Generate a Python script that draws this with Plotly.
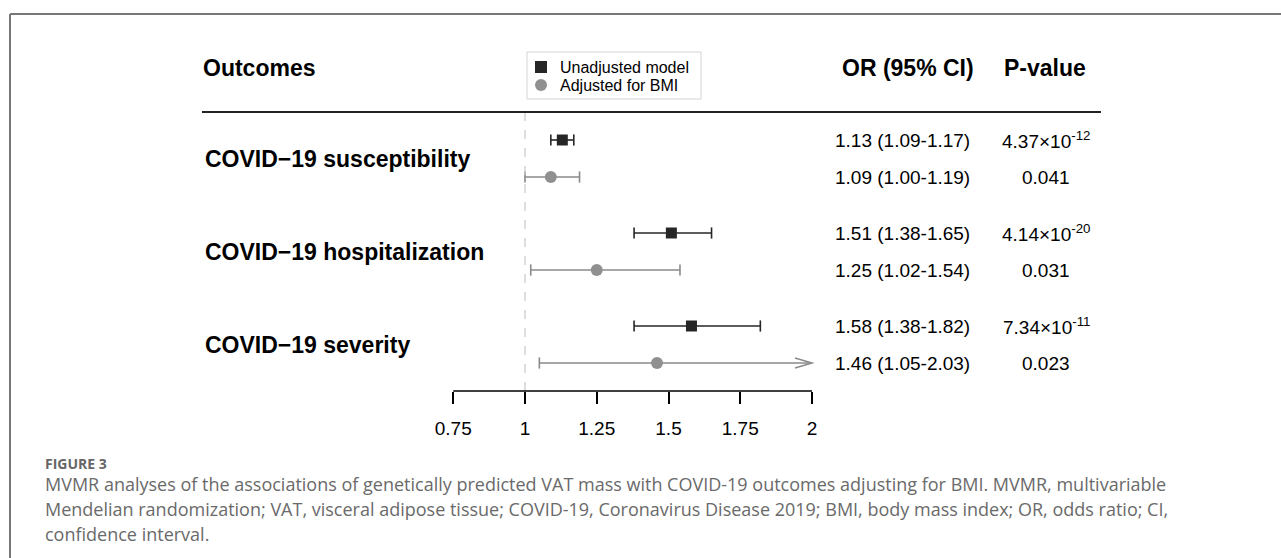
import plotly.graph_objects as go

# ---------------- data ----------------
outcomes = ["COVID−19 susceptibility", "COVID−19 hospitalization", "COVID−19 severity"]
models = ["Unadjusted model", "Adjusted for BMI"]

or_unadj = [1.13, 1.51, 1.58]
lo_unadj = [1.09, 1.38, 1.38]
hi_unadj = [1.17, 1.65, 1.82]
p_unadj = ["4.37×10<sup>-12</sup>", "4.14×10<sup>-20</sup>", "7.34×10<sup>-11</sup>"]

or_adj = [1.09, 1.25, 1.46]
lo_adj = [1.00, 1.02, 1.05]
hi_adj = [1.19, 1.54, 2.03]
p_adj = ["0.041", "0.031", "0.023"]

tick_vals = [0.75, 1, 1.25, 1.5, 1.75, 2]
tick_text = ["0.75", "1", "1.25", "1.5", "1.75", "2"]

headers = ["Outcomes", "OR (95% CI)", "P-value"]
caption_title = "FIGURE 3"
caption_lines = [
    "MVMR analyses of the associations of genetically predicted VAT mass with COVID-19 outcomes adjusting for BMI. MVMR, multivariable",
    "Mendelian randomization; VAT, visceral adipose tissue; COVID-19, Coronavirus Disease 2019; BMI, body mass index; OR, odds ratio; CI,",
    "confidence interval.",
]

# ---------------- layout constants (pixels) ----------------
W, H = 1281, 558
X_ONE_PX = 525
PX_PER_UNIT = 287
X_MIN, X_MAX = 0.75, 2.0
AXIS_Y = 391
ROW0_UNADJ, ROW0_ADJ, GROUP_STEP = 140, 177, 93
FONT = "Liberation Sans, Arial, Helvetica, sans-serif"
CAP_FONT = "Open Sans, Lato, sans-serif"
C_UNADJ = "#262626"
C_ADJ = "#909090"
C_ADJ_LINE = "#8a8a8a"

x_range = [1 - X_ONE_PX / PX_PER_UNIT, 1 + (W - X_ONE_PX) / PX_PER_UNIT]


def px(x):
    return x / W


y_unadj = [ROW0_UNADJ + GROUP_STEP * i for i in range(len(outcomes))]
y_adj = [ROW0_ADJ + GROUP_STEP * i for i in range(len(outcomes))]

fig = go.Figure()
shapes = []
annotations = []


def add_series(name, ors, los, his, ys, color, line_color, symbol, msize):
    wx, wy, cx, cy = [], [], [], []
    for o, lo, hi, y in zip(ors, los, his, ys):
        hi_c = min(hi, X_MAX)
        wx += [lo, hi_c, None]
        wy += [y, y, None]
        cx.append(lo)
        cy.append(y)
        if hi <= X_MAX:
            cx.append(hi)
            cy.append(y)
        else:
            head = 17 / PX_PER_UNIT
            shapes.append(dict(
                type="path", xref="x", yref="y",
                path=f"M {X_MAX - head},{y - 5} L {X_MAX},{y} L {X_MAX - head},{y + 5}",
                line=dict(color=line_color, width=1.5)))
    fig.add_trace(go.Scatter(x=wx, y=wy, mode="lines", line=dict(color=line_color, width=1.6),
                             showlegend=False, hoverinfo="skip"))
    fig.add_trace(go.Scatter(x=cx, y=cy, mode="markers",
                             marker=dict(symbol="line-ns", size=8,
                                         line=dict(color=line_color, width=1.6)),
                             showlegend=False, hoverinfo="skip"))
    fig.add_trace(go.Scatter(x=ors, y=ys, mode="markers", name=name, showlegend=False,
                             marker=dict(symbol=symbol, size=msize, color=color,
                                         line=dict(width=0))))


add_series(models[0], or_unadj, lo_unadj, hi_unadj, y_unadj, C_UNADJ, C_UNADJ, "square", 11)
add_series(models[1], or_adj, lo_adj, hi_adj, y_adj, C_ADJ, C_ADJ_LINE, "circle", 12)

# reference line at OR = 1
shapes.append(dict(type="line", xref="x", yref="y", x0=1, x1=1, y0=112, y1=AXIS_Y,
                   line=dict(color="#c8c8c8", width=1.2, dash="dash")))
# axis line from 0.75 to 2
shapes.append(dict(type="line", xref="x", yref="y", x0=X_MIN, x1=X_MAX, y0=AXIS_Y, y1=AXIS_Y,
                   line=dict(color="black", width=1.6)))
# header rule
shapes.append(dict(type="line", xref="paper", yref="y", x0=px(202), x1=px(1101), y0=112, y1=112,
                   line=dict(color="#222", width=2.2)))
# frame (top + left)
shapes.append(dict(type="line", xref="paper", yref="y", x0=px(10), x1=1, y0=14, y1=14,
                   line=dict(color="#777", width=2)))
shapes.append(dict(type="line", xref="paper", yref="y", x0=px(10), x1=px(10), y0=14, y1=H,
                   line=dict(color="#777", width=2)))

# legend (box, glyphs, labels)
shapes.append(dict(type="rect", xref="paper", yref="y", x0=px(527), x1=px(701), y0=52, y1=99,
                   line=dict(color="#d4d4d4", width=1), fillcolor="white", layer="below"))
shapes.append(dict(type="rect", xref="paper", yref="y", x0=px(535), x1=px(547), y0=61, y1=73,
                   line=dict(width=0), fillcolor=C_UNADJ))
shapes.append(dict(type="circle", xref="paper", yref="y", x0=px(535), x1=px(547), y0=79, y1=91,
                   line=dict(width=0), fillcolor=C_ADJ))
for name, yy in zip(models, [67, 85]):
    annotations.append(dict(text=name, xref="paper", yref="y", x=px(558), y=yy,
                            xanchor="left", yanchor="middle", showarrow=False,
                            font=dict(family=FONT, size=16, color="black")))

# headers
for txt, xp in zip(headers, [201, 840, 1002]):
    annotations.append(dict(text=f"<b>{txt}</b>", xref="paper", yref="y", x=px(xp), y=68,
                            xanchor="left", yanchor="middle", showarrow=False,
                            font=dict(family=FONT, size=23, color="black")))

# outcome labels
for i, name in enumerate(outcomes):
    annotations.append(dict(text=f"<b>{name}</b>", xref="paper", yref="y", x=px(203),
                            y=(y_unadj[i] + y_adj[i]) / 2, xanchor="left", yanchor="middle",
                            showarrow=False, font=dict(family=FONT, size=23, color="black")))

# OR text and p-values
for ors, los, his, ps, ys in [(or_unadj, lo_unadj, hi_unadj, p_unadj, y_unadj),
                              (or_adj, lo_adj, hi_adj, p_adj, y_adj)]:
    for o, lo, hi, p, y in zip(ors, los, his, ps, ys):
        annotations.append(dict(text=f"{o:.2f} ({lo:.2f}-{hi:.2f})", xref="paper", yref="y",
                                x=px(833), y=y, xanchor="left", yanchor="middle", showarrow=False,
                                font=dict(family=FONT, size=19, color="black")))
        annotations.append(dict(text=p, xref="paper", yref="y", x=px(1046), y=y,
                                xanchor="center", yanchor="middle", showarrow=False,
                                font=dict(family=FONT, size=19, color="black")))

# caption
annotations.append(dict(text=f"<b>{caption_title}</b>", xref="paper", yref="y", x=px(43), y=463,
                        xanchor="left", yanchor="middle", showarrow=False,
                        font=dict(family=CAP_FONT, size=14, color="#666")))
for line, yy in zip(caption_lines, [484, 509, 534]):
    annotations.append(dict(text=line, xref="paper", yref="y", x=px(43), y=yy,
                            xanchor="left", yanchor="middle", showarrow=False,
                            font=dict(family=CAP_FONT, size=18, color="#6a6a6a")))

fig.update_layout(
    width=W, height=H, autosize=False,
    margin=dict(l=0, r=0, t=0, b=0, pad=0),
    paper_bgcolor="white", plot_bgcolor="white",
    showlegend=False,
    xaxis=dict(range=x_range, tickvals=tick_vals, ticktext=tick_text,
               ticks="outside", ticklen=12, tickwidth=1.6, tickcolor="black",
               showline=False, showgrid=False, zeroline=False,
               anchor="free", position=1 - AXIS_Y / H, side="bottom",
               ticklabelstandoff=8,
               tickfont=dict(family=FONT, size=19, color="black"), fixedrange=True),
    yaxis=dict(range=[H, 0], visible=False, showgrid=False, zeroline=False, fixedrange=True),
    shapes=shapes,
    annotations=annotations,
)

fig.write_html("out.html", config={"displayModeBar": False},
               post_script="document.body.style.margin='0';document.body.style.overflow='hidden';")
